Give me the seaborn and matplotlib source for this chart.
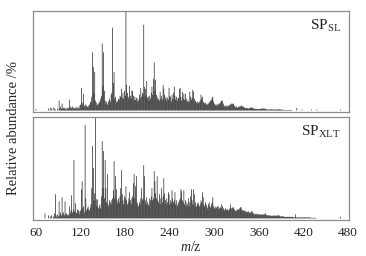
import matplotlib
matplotlib.use("Agg")
import matplotlib.pyplot as plt
import seaborn as sns
import pandas as pd

# m/z axis: every integer from 60 to 440, plus a lone peak at 470
mz = list(range(60, 441)) + [470]

# SP_SL relative abundance (%), rows of 20 starting at 60, 80, 100 ...
sl_int = [
    1.5, 0, 0, 0, 0, 0, 0, 0, 0, 0, 0, 0, 0, 0, 0, 0, 0, 2, 0, 3,
    0, 2, 0, 3, 0, 2, 1, 0, 0, 2, 0, 10, 2, 4, 2, 7, 2, 3, 2, 3,
    1, 2, 2, 3, 2, 11, 3, 4, 2, 4, 3, 2, 2, 3, 2, 4, 2, 3, 2, 5,
    6, 23, 8, 6, 17, 5, 4, 6, 5, 4, 3, 5, 6, 9, 8, 14, 59, 44, 18, 39,
    10, 8, 5, 6, 7, 9, 8, 12, 15, 68, 25, 59, 20, 10, 7, 9, 6, 8, 10, 12,
    9, 16, 18, 84, 28, 39, 12, 14, 8, 10, 9, 12, 11, 15, 14, 22, 13, 18, 12, 20,
    15, 100, 26, 18, 14, 12, 25, 15, 12, 20, 20, 15, 10, 14, 11, 13, 9, 12, 10, 16,
    12, 23, 14, 18, 16, 87, 24, 22, 15, 30, 13, 14, 10, 15, 12, 18, 24, 16, 32, 49,
    20, 31, 16, 14, 11, 12, 10, 19, 12, 15, 11, 26, 22, 16, 12, 14, 10, 13, 11, 23,
    15, 14, 9, 16, 12, 18, 24, 15, 11, 14, 10, 12, 13, 22, 23, 14, 10, 19, 12, 17,
    11, 17, 10, 12, 9, 10, 8, 19, 14, 11, 13, 21, 19, 12, 9, 10, 8, 9, 7, 8,
    9, 10, 16, 12, 14, 9, 8, 7, 8, 6, 7, 6, 7, 8, 9, 10, 11, 13, 14, 9,
    7, 6, 5, 6, 5, 7, 6, 7, 8, 9, 10, 10, 7, 5, 4, 5, 4, 5, 4, 5,
    5, 6, 6, 7, 7, 6, 7, 5, 4, 3, 4, 3, 3, 4, 4, 4, 5, 5, 4, 4,
    3, 3, 2.5, 2.5, 2, 2.5, 2, 2.5, 2.5, 3, 3, 3, 2.5, 2, 2, 1.5, 1.5, 1.5, 1.5, 1.5,
    1.5, 1.5, 1.5, 2, 2, 2, 2, 2, 2, 1.5, 1.5, 1, 1, 1, 1, 1, 1, 1.5, 1, 1,
    1, 1, 1, 1, 1, 1, 1, 1.5, 1, 1, 1, 1, 1, 0.5, 0.5, 0.5, 0.5, 0.5, 0.5, 0.5,
    0.5, 0.5, 0.5, 0.5, 0.5, 0, 0, 0, 0, 0, 0, 2.5, 0, 0, 0, 0, 0, 0, 1, 0,
    0, 0, 0, 0, 0, 0, 0, 0, 0, 0, 0, 1, 0, 0, 0, 0, 0, 0, 1, 0,
    0,
    1,
]

# SP_XLT relative abundance (%)
xlt_int = [
    0, 0, 0, 0, 0, 0, 0, 0, 0, 0, 0, 0, 5, 0, 0, 0, 0, 3, 0, 2,
    0, 3, 0, 2, 1, 5, 24, 3, 1, 4, 2, 17, 3, 6, 3, 21, 4, 6, 3, 17,
    4, 5, 3, 4, 3, 12, 5, 8, 23, 6, 9, 58, 7, 15, 5, 6, 9, 8, 4, 7,
    8, 29, 37, 10, 12, 6, 93, 20, 8, 10, 12, 9, 8, 11, 14, 30, 72, 50, 18, 25,
    100, 19, 12, 19, 10, 12, 14, 10, 22, 77, 30, 67, 20, 58, 30, 16, 44, 14, 12, 18,
    16, 14, 18, 20, 28, 57, 20, 42, 29, 18, 15, 20, 16, 22, 30, 48, 24, 18, 14, 22,
    20, 32, 18, 14, 16, 20, 26, 18, 14, 20, 22, 35, 44, 20, 32, 42, 16, 14, 12, 16,
    14, 20, 30, 18, 20, 53, 42, 18, 14, 21, 16, 14, 12, 20, 18, 22, 30, 18, 20, 47,
    37, 25, 20, 42, 18, 16, 24, 14, 20, 30, 16, 22, 40, 25, 18, 14, 20, 16, 26, 24,
    14, 18, 16, 28, 20, 16, 18, 26, 14, 18, 12, 14, 16, 18, 20, 29, 27, 18, 16, 28,
    14, 18, 12, 16, 14, 20, 12, 16, 22, 29, 18, 14, 29, 24, 12, 16, 12, 14, 16, 14,
    12, 14, 18, 16, 26, 21, 14, 12, 16, 14, 12, 10, 14, 16, 12, 11, 14, 16, 21, 12,
    10, 12, 10, 11, 12, 9, 12, 10, 11, 10, 14, 12, 10, 9, 8, 10, 9, 8, 9, 8,
    9, 10, 14, 10, 11, 10, 11, 9, 8, 7, 8, 9, 8, 9, 10, 11, 11, 9, 8, 8,
    7, 8, 7, 6, 7, 6, 7, 6, 5, 6, 7, 7, 5, 5, 4, 4, 5, 4, 4, 4,
    4, 4, 3.5, 4, 4, 3.5, 4, 4, 4, 5, 3.5, 3, 3, 3, 3, 2.5, 3, 2.5, 2.5, 3,
    2.5, 3, 2.5, 2.5, 3, 3, 2.5, 3.5, 2.5, 2, 2, 2, 2, 2, 1.5, 1.5, 1.5, 1.5, 1.5, 1.5,
    1.5, 1.5, 1.5, 1.5, 1.5, 1.5, 1.5, 1, 1, 4, 1, 1, 1, 1, 1, 1, 1, 1, 1, 1,
    1, 1, 1, 1, 1, 1, 1, 1, 1, 1, 0.5, 0.5, 0.5, 0.5, 0.5, 0.5, 0.5, 0.5, 0, 0,
    0,
    1.5,
]

xticks = [60, 120, 180, 240, 300, 360, 420, 480]
labels = ["SP$_{\\mathrm{SL}}$", "SP$_{\\mathrm{XLT}}$"]

sns.set_style("white")
plt.rcParams["font.family"] = ["Liberation Serif", "DejaVu Serif"]
plt.rcParams["mathtext.fontset"] = "custom"
plt.rcParams["mathtext.rm"] = "Liberation Serif"
plt.rcParams["mathtext.it"] = "Liberation Serif:italic"

fig = plt.figure(figsize=(3.66, 2.56), dpi=100)
ax1 = fig.add_axes([0.089, 0.5625, 0.864, 0.395])
ax2 = fig.add_axes([0.089, 0.141, 0.864, 0.402])

for ax, vals, lab in [(ax1, sl_int, labels[0]), (ax2, xlt_int, labels[1])]:
    df = pd.DataFrame({"mz": mz, "abund": vals})
    sns.barplot(data=df, x="mz", y="abund", native_scale=True,
                color="#000000", width=0.8, linewidth=0,
                errorbar=None, ax=ax)
    # thin bars (< 1 px): stop pixel snapping so none vanish
    for p in ax.patches:
        p.set_snap(False)
        p.set_antialiased(True)
    ax.set_xlim(55.3, 481)
    ax.set_ylim(-1.5, 101)
    ax.set_xticks(xticks)
    ax.set_yticks([])
    ax.set_xlabel("")
    ax.set_ylabel("")
    ax.tick_params(axis="x", direction="in", length=3, width=0.8,
                   color="#202020", labelsize=9.5, pad=5)
    for s in ax.spines.values():
        s.set_color("#8c8c8c")
        s.set_linewidth(0.9)
    ax.text(0.975, 0.93, lab, transform=ax.transAxes, ha="right", va="top",
            fontsize=11)

ax1.tick_params(labelbottom=False)
ax2.set_xlabel("$m$/z", fontsize=10, labelpad=1)
fig.text(0.038, 0.5, "Relative abundance /%", rotation=90,
         ha="center", va="center", fontsize=10.5)

fig.savefig("out.png", dpi=100)
